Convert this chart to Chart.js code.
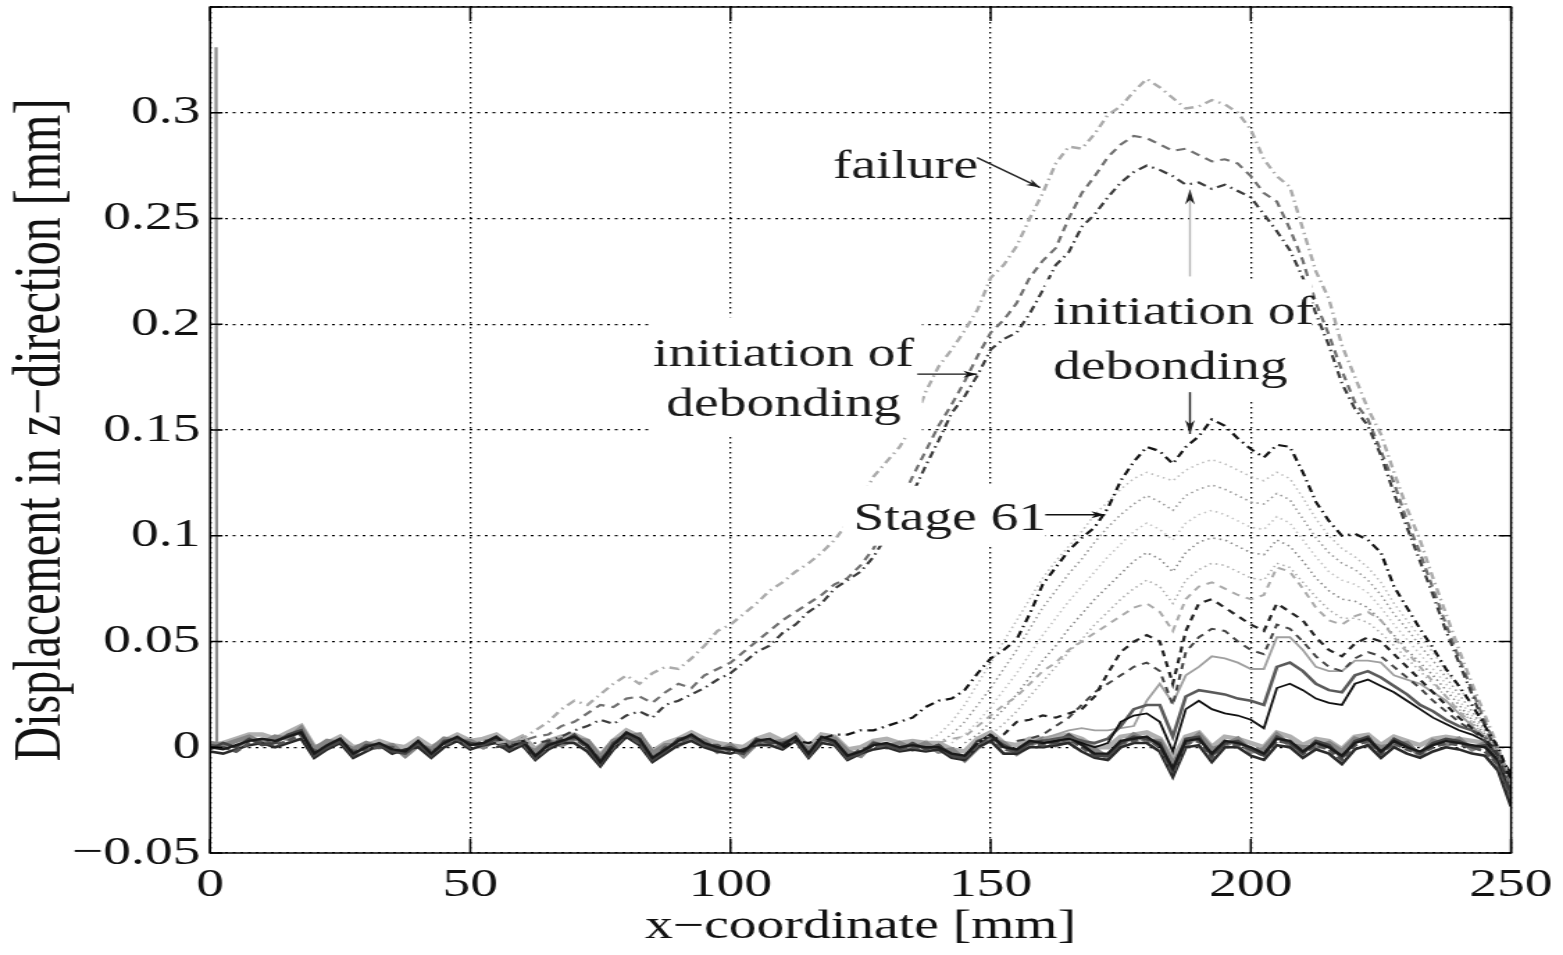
<!DOCTYPE html>
<html><head><meta charset="utf-8">
<script src="https://cdn.jsdelivr.net/npm/chart.js@4.4.0/dist/chart.umd.min.js"></script>
<style>
html,body{margin:0;padding:0;background:#fff;overflow:hidden;}
#wrap{width:1125px;height:955px;transform:scaleX(1.38933);transform-origin:0 0;}
canvas{display:block;}
</style></head><body>
<div id="wrap"><canvas id="c" width="1125" height="955" style="width:1125px;height:955px"></canvas></div>
<script>
// ---------- data ----------
const xGrid = [0,2.5,5,7.5,10,12.5,15,17.5,20,22.5,25,27.5,30,32.5,35,37.5,40,42.5,45,47.5,
  50,52.5,55,57.5,60,62.5,65,67.5,70,72.5,75,77.5,80,82.5,85,87.5,90,92.5,95,97.5,
  100,102.5,105,107.5,110,112.5,115,117.5,120,122.5,125,127.5,130,132.5,135,137.5,140,142.5,145,147.5,
  150,152.5,155,157.5,160,162.5,165,167.5,170,172.5,175,177.5,180,182.5,185,187.5,190,192.5,195,197.5,
  200,202.5,205,207.5,210,212.5,215,217.5,220,222.5,225,227.5,230,232.5,235,237.5,240,242.5,245,247.5,250];
const xTicks = [0,50,100,150,200,250];
const yTickLabels = ['\u22120.05','0','0.05','0.1','0.15','0.2','0.25','0.3',''];

// failure curve (from 55 mm)
const failureStart = 55;
const failureY = [0.002,0.003,0.004,0.008,0.012,0.018,0.022,0.02,0.025,0.03,
  0.034,0.03,0.035,0.038,0.037,0.042,0.048,0.055,0.058,0.063,
  0.068,0.074,0.078,0.083,0.087,0.092,0.098,0.106,0.117,0.128,
  0.135,0.142,0.152,0.168,0.18,0.188,0.197,0.207,0.222,0.228,
  0.237,0.25,0.262,0.276,0.284,0.283,0.29,0.299,0.303,0.31,
  0.316,0.312,0.307,0.302,0.303,0.306,0.304,0.3,0.292,0.278,
  0.27,0.265,0.245,0.225,0.212,0.19,0.175,0.16,0.148,0.13,
  0.113,0.098,0.08,0.063,0.046,0.03,0.015,0.0,-0.018];
// initiation of debonding (gray dashed)
const initBStart = 55;
const initBY = [0.0,0.002,0.003,0.005,0.006,0.01,0.012,0.016,0.02,0.019,
  0.023,0.024,0.021,0.026,0.03,0.028,0.034,0.037,0.04,0.045,
  0.05,0.055,0.06,0.064,0.068,0.072,0.077,0.08,0.086,0.094,
  0.105,0.115,0.128,0.14,0.152,0.162,0.173,0.185,0.196,0.202,
  0.21,0.222,0.23,0.236,0.25,0.262,0.27,0.279,0.285,0.289,
  0.288,0.285,0.282,0.283,0.28,0.277,0.278,0.276,0.27,0.262,
  0.258,0.245,0.23,0.21,0.195,0.178,0.163,0.155,0.14,0.125,
  0.107,0.092,0.075,0.058,0.042,0.027,0.012,-0.002,-0.02];
// dark dash-dot curve
const initCStart = 55;
const initCY = [0.0,0.001,0.002,0.002,0.003,0.005,0.008,0.01,0.013,0.011,
  0.015,0.017,0.014,0.02,0.022,0.025,0.028,0.032,0.035,0.04,
  0.045,0.048,0.054,0.058,0.064,0.068,0.075,0.079,0.083,0.09,
  0.1,0.11,0.12,0.133,0.145,0.158,0.166,0.176,0.188,0.193,
  0.196,0.205,0.216,0.228,0.234,0.246,0.252,0.26,0.267,0.272,
  0.275,0.273,0.27,0.266,0.267,0.264,0.266,0.263,0.26,0.252,
  0.244,0.235,0.222,0.205,0.19,0.172,0.16,0.152,0.138,0.12,
  0.104,0.088,0.072,0.055,0.04,0.025,0.01,-0.004,-0.022];
// Stage 61
const stage61Start = 110;
const stage61Y = [0.0,0.003,0.002,0.004,0.006,0.006,0.008,0.008,0.01,0.012,
  0.014,0.019,0.022,0.023,0.027,0.035,0.042,0.046,0.051,0.063,
  0.077,0.085,0.093,0.099,0.104,0.113,0.126,0.135,0.142,0.14,
  0.134,0.142,0.147,0.155,0.152,0.146,0.141,0.137,0.143,0.142,
  0.13,0.116,0.107,0.1,0.101,0.098,0.092,0.076,0.066,0.056,
  0.047,0.037,0.029,0.02,0.01,0.0,-0.015];
// dotted intermediate stages
const dot1Start = 137.5;
const dot1Y = [0.003,0.006,0.012,0.02,0.03,0.04,0.05,0.06,0.07,0.08,
  0.088,0.095,0.102,0.11,0.116,0.122,0.127,0.13,0.128,0.126,
  0.131,0.134,0.136,0.134,0.131,0.128,0.126,0.13,0.127,0.118,
  0.108,0.1,0.094,0.09,0.085,0.078,0.068,0.06,0.052,0.045,
  0.036,0.028,0.02,0.01,0.0,-0.015];
const dot2Start = 140;
const dot2Y = [0.002,0.006,0.012,0.02,0.028,0.037,0.046,0.056,0.066,0.074,
  0.082,0.089,0.097,0.104,0.11,0.115,0.119,0.116,0.112,0.119,
  0.122,0.124,0.122,0.119,0.116,0.115,0.12,0.117,0.108,0.099,
  0.092,0.087,0.084,0.079,0.072,0.063,0.056,0.048,0.041,0.033,
  0.025,0.017,0.008,-0.001,-0.015];
const dot3Start = 142.5;
const dot3Y = [0.002,0.006,0.012,0.019,0.027,0.035,0.044,0.053,0.061,0.069,
  0.076,0.083,0.09,0.096,0.102,0.106,0.103,0.098,0.106,0.11,
  0.112,0.11,0.107,0.104,0.103,0.109,0.106,0.098,0.09,0.083,
  0.079,0.077,0.073,0.066,0.058,0.051,0.044,0.037,0.03,0.022,
  0.015,0.007,-0.002,-0.016];
const dot4Start = 145;
const dot4Y = [0.002,0.006,0.012,0.018,0.025,0.033,0.041,0.048,0.056,0.063,
  0.07,0.076,0.082,0.088,0.092,0.089,0.083,0.092,0.097,0.099,
  0.098,0.095,0.092,0.091,0.098,0.095,0.088,0.08,0.074,0.07,
  0.069,0.066,0.06,0.053,0.046,0.04,0.034,0.027,0.02,0.013,
  0.006,-0.002,-0.016];
const dot5Start = 147.5;
const dot5Y = [0.002,0.006,0.011,0.017,0.024,0.031,0.038,0.045,0.051,0.058,
  0.064,0.07,0.075,0.079,0.076,0.068,0.079,0.084,0.087,0.086,
  0.083,0.08,0.079,0.087,0.085,0.078,0.071,0.065,0.061,0.061,
  0.059,0.054,0.048,0.042,0.036,0.03,0.024,0.018,0.012,0.005,
  -0.003,-0.017];
// dashed intermediate stages
const dash1Start = 150;
const dash1Y = [0.003,0.006,0.012,0.013,0.015,0.014,0.016,0.018,0.024,0.035,
  0.045,0.05,0.053,0.05,0.03,0.055,0.068,0.07,0.066,0.062,
  0.058,0.055,0.068,0.064,0.06,0.052,0.046,0.043,0.049,0.052,
  0.05,0.044,0.038,0.032,0.026,0.02,0.014,0.009,0.004,-0.003,
  -0.016];
const dash2Start = 140;
const dash2Y = [0.002,0.004,0.005,0.01,0.015,0.02,0.024,0.03,0.036,0.04,
  0.046,0.05,0.054,0.058,0.062,0.066,0.068,0.064,0.055,0.07,
  0.076,0.078,0.075,0.072,0.07,0.072,0.085,0.083,0.075,0.066,
  0.06,0.058,0.062,0.064,0.06,0.052,0.045,0.038,0.031,0.024,
  0.017,0.011,0.005,-0.003,-0.017];
const dash3Start = 155;
const dash3Y = [0.003,0.004,0.006,0.01,0.014,0.02,0.026,0.03,0.034,0.038,
  0.04,0.036,0.02,0.045,0.052,0.056,0.055,0.05,0.046,0.044,
  0.058,0.056,0.05,0.043,0.038,0.036,0.042,0.045,0.043,0.038,
  0.033,0.028,0.022,0.017,0.012,0.008,0.003,-0.004,-0.018];
// solid early stages
const solid1Start = 160;
const solid1Y = [0.004,0.006,0.008,0.009,0.008,0.008,0.009,0.01,0.022,0.03,
  0.021,0.034,0.038,0.043,0.042,0.04,0.037,0.037,0.052,0.052,
  0.046,0.038,0.036,0.036,0.041,0.041,0.04,0.034,0.032,0.03,
  0.026,0.022,0.016,0.01,0.004,-0.004,-0.018];
const solid2Start = 160;
const solid2Y = [0.002,0.003,0.004,0.002,0.0,0.002,0.012,0.015,0.016,0.012,
  -0.002,0.018,0.022,0.018,0.016,0.015,0.013,0.009,0.028,0.03,
  0.027,0.023,0.021,0.02,0.03,0.032,0.029,0.026,0.022,0.018,
  0.014,0.011,0.008,0.006,0.003,-0.004,-0.012];
const solid3Start = 160;
const solid3Y = [0.003,0.004,0.005,0.003,0.002,0.004,0.01,0.018,0.02,0.02,
  0.005,0.024,0.027,0.026,0.025,0.023,0.022,0.02,0.038,0.04,
  0.036,0.03,0.027,0.026,0.034,0.036,0.033,0.029,0.025,0.02,
  0.017,0.013,0.01,0.008,0.005,-0.003,-0.015];
// near-zero stages (full length)
const noise1Y = [0.000,-0.001,0.001,0.003,0.004,0.003,0.005,0.007,-0.003,0.001,
  0.004,-0.003,0.000,0.002,-0.001,-0.002,0.003,-0.003,0.002,0.005,
  0.001,0.002,0.005,0.000,0.003,-0.004,0.001,0.003,0.005,0.001,
  -0.007,0.001,0.007,0.004,-0.005,-0.001,0.003,0.006,0.002,0.000,
  -0.001,-0.002,0.003,0.004,0.001,0.005,-0.003,0.005,0.003,-0.004,
  -0.002,0.001,0.002,0.000,0.001,0.000,0.000,-0.003,-0.004,0.002,
  0.006,0.000,-0.001,0.003,0.002,0.003,0.005,0.001,-0.003,-0.003,
  0.003,0.004,0.005,0.001,-0.010,0.003,0.004,-0.003,0.003,0.002,
  0.000,-0.003,0.004,0.003,-0.002,0.002,0.000,-0.004,0.002,0.004,
  -0.002,0.003,0.000,-0.002,0.001,0.003,0.002,0.001,0.000,-0.006,
  -0.020];
const noise2Y = [0.002,0.001,0.003,0.005,0.002,0.005,0.004,0.009,-0.001,0.003,
  0.002,-0.001,0.002,0.000,0.001,-0.004,0.001,-0.001,0.004,0.003,
  0.003,0.000,0.004,0.002,0.001,-0.002,0.003,0.001,0.004,0.003,
  -0.005,0.003,0.005,0.006,-0.003,0.001,0.001,0.004,0.003,-0.002,
  0.001,-0.004,0.002,0.002,0.003,0.003,-0.001,0.003,0.004,-0.002,
  -0.004,0.002,0.000,0.002,-0.001,0.002,-0.002,-0.001,-0.006,0.000,
  0.004,0.002,-0.003,0.001,0.004,0.001,0.003,0.003,-0.001,-0.005,
  0.001,0.006,0.003,0.003,-0.008,0.001,0.006,-0.001,0.001,0.004,
  -0.002,-0.001,0.006,0.001,0.000,0.000,0.002,-0.002,0.004,0.002,
  0.000,0.001,0.002,-0.004,0.003,0.001,0.004,-0.001,0.002,-0.008,
  -0.025];
const noise3Y = [-0.002,-0.003,-0.001,0.001,0.002,0.000,0.002,0.004,-0.005,-0.001,
  0.002,-0.005,-0.002,0.001,-0.003,-0.001,0.000,-0.005,0.000,0.003,
  -0.001,0.001,0.002,-0.002,0.001,-0.006,-0.001,0.002,0.002,-0.002,
  -0.009,-0.001,0.005,0.001,-0.007,-0.003,0.001,0.003,0.000,-0.002,
  -0.003,-0.001,0.001,0.001,-0.001,0.003,-0.005,0.002,0.001,-0.006,
  -0.003,-0.001,0.000,-0.002,-0.001,-0.002,-0.001,-0.005,-0.006,0.000,
  0.003,-0.003,-0.003,0.000,0.000,0.001,0.002,-0.002,-0.005,-0.006,
  0.000,0.002,0.002,-0.002,-0.014,0.000,0.001,-0.007,0.000,0.000,
  -0.004,-0.006,0.001,0.000,-0.005,-0.001,-0.003,-0.008,-0.001,0.001,
  -0.005,0.000,-0.003,-0.005,-0.002,0.000,-0.001,-0.003,-0.004,-0.011,
  -0.028];
const noise4Y = [0.001,0.002,0.004,0.006,0.006,0.004,0.007,0.010,0.000,0.002,
  0.005,0.000,0.001,0.003,0.001,0.000,0.004,0.000,0.003,0.006,
  0.003,0.004,0.006,0.002,0.005,-0.001,0.003,0.005,0.006,0.003,
  -0.004,0.003,0.008,0.005,-0.002,0.002,0.004,0.007,0.004,0.002,
  0.001,0.000,0.004,0.006,0.003,0.006,0.000,0.006,0.005,-0.001,
  0.000,0.003,0.004,0.002,0.003,0.002,0.002,-0.001,-0.002,0.004,
  0.007,0.002,0.001,0.004,0.004,0.005,0.006,0.004,0.000,0.000,
  0.005,0.006,0.007,0.004,-0.006,0.005,0.007,0.000,0.005,0.004,
  0.002,0.000,0.007,0.005,0.001,0.004,0.003,-0.001,0.005,0.006,
  0.001,0.005,0.003,0.001,0.004,0.005,0.004,0.003,0.002,-0.004,
  -0.016];
const noise5Y = [0.001,0.000,-0.002,0.002,0.003,0.001,0.003,0.006,-0.002,0.000,
  0.003,-0.002,-0.001,0.000,0.000,-0.003,0.002,-0.002,0.001,0.004,
  0.000,0.003,0.003,-0.001,0.002,-0.005,0.000,0.004,0.004,0.000,
  -0.006,0.000,0.006,0.002,-0.006,0.000,0.002,0.005,0.001,0.001,
  -0.002,-0.003,0.002,0.003,0.000,0.004,-0.004,0.004,0.002,-0.005,
  -0.001,0.000,0.001,-0.001,0.000,-0.001,0.001,-0.004,-0.005,0.001,
  0.005,-0.001,-0.002,0.002,0.001,0.002,0.004,0.000,-0.004,-0.004,
  0.002,0.003,0.004,0.000,-0.012,0.002,0.003,-0.005,0.002,0.001,
  -0.001,-0.004,0.003,0.002,-0.003,0.001,-0.001,-0.006,0.001,0.003,
  -0.003,0.002,-0.001,-0.003,0.000,0.002,0.001,0.000,-0.002,-0.008,
  -0.024];
const noise6Y = [-0.001,0.002,0.000,0.004,0.001,0.002,0.006,0.008,-0.004,0.000,
  0.003,-0.004,0.001,0.001,-0.002,-0.003,0.002,-0.004,0.003,0.004,
  0.002,0.001,0.004,-0.001,0.004,-0.005,0.002,0.002,0.006,0.000,
  -0.008,0.002,0.006,0.003,-0.006,-0.002,0.004,0.005,0.001,-0.001,
  0.000,-0.003,0.004,0.002,0.002,0.004,-0.004,0.004,0.002,-0.005,
  -0.003,0.002,0.001,-0.001,0.002,-0.001,0.001,-0.004,-0.005,0.003,
  0.005,0.001,-0.002,0.002,0.003,0.002,0.006,0.002,-0.004,-0.004,
  0.002,0.005,0.004,0.002,-0.011,0.004,0.005,-0.004,0.002,0.003,
  -0.001,-0.004,0.005,0.002,-0.003,0.003,0.001,-0.005,0.003,0.005,
  -0.003,0.004,0.001,-0.003,0.002,0.004,0.003,0.000,0.001,-0.007,
  -0.022];
// spike at the left edge
const spikeX = [1.15, 1.3];
const spikeY = [0.331, 0.001];

// ---------- chart ----------
const FONT = '"Liberation Serif", "Times New Roman", Times, serif';
function pts(start, ys){ const i0 = xGrid.indexOf(start); return ys.map((y,i)=>({x:xGrid[i0+i], y:y})); }
function full(ys){ return xGrid.map((x,i)=>({x:x, y:ys[i]})); }
function ds(data, color, width, dash){ return {data:data, borderColor:color, borderWidth:width, borderDash:dash||[], pointRadius:0, fill:false, tension:0}; }
const DD = [7,4,1.5,4];

const datasets = [
  ds(pts(stage61Start, stage61Y), '#141414', 2.2, DD),
  ds(pts(initCStart, initCY), '#3c3c3c', 2.2, DD),
  ds(pts(initBStart, initBY), '#707070', 2.2, [7,5]),
  ds(pts(failureStart, failureY), '#ababab', 2.4, DD),
  ds(pts(dash1Start, dash1Y), '#222', 2.2, [6,5]),
  ds(pts(dash3Start, dash3Y), '#444', 2, [6,5]),
  ds(pts(dash2Start, dash2Y), '#aaa', 2, [6,5]),
  ds(pts(dot1Start, dot1Y), '#bdbdbd', 1.6, [1.5,3]),
  ds(pts(dot2Start, dot2Y), '#9a9a9a', 1.6, [1.5,3]),
  ds(pts(dot3Start, dot3Y), '#c4c4c4', 1.6, [1.5,3]),
  ds(pts(dot4Start, dot4Y), '#8a8a8a', 1.6, [1.5,3]),
  ds(pts(dot5Start, dot5Y), '#b0b0b0', 1.6, [1.5,3]),
  ds(pts(solid2Start, solid2Y), '#111', 1.8),
  ds(pts(solid3Start, solid3Y), '#5a5a5a', 2.6),
  ds(pts(solid1Start, solid1Y), '#a0a0a0', 1.8),
  ds(full(noise1Y), '#1a1a1a', 2.4),
  ds(full(noise6Y), '#444', 2.6),
  ds(full(noise5Y), '#555', 3, [6,3]),
  ds(full(noise3Y), '#2a2a2a', 2.6),
  ds(full(noise2Y), '#858585', 4.4),
  ds(full(noise4Y), '#b0b0b0', 4.4),
  ds(spikeX.map((x,i)=>({x:x, y:spikeY[i]})), '#8c8c8c', 2.2)
];

// annotation anchors in data units
const notes = {
  boxes: [[84.5,136.8,0.2033,0.1467],[160.5,211.8,0.2212,0.1646],[121.6,160.5,0.1236,0.0953],[118.2,148.9,0.288,0.2637]],
  texts: [
    {t:'failure', x:119.7, y:0.2693, align:'left'},
    {t:'initiation of', x:110.2, y:0.1802, align:'center'},
    {t:'debonding', x:110.2, y:0.1566, align:'center'},
    {t:'initiation of', x:162.0, y:0.2000, align:'left'},
    {t:'debonding', x:162.0, y:0.1740, align:'left'},
    {t:'Stage 61', x:123.6, y:0.1028, align:'left'}
  ],
  arrows: [
    {x0:147.4, y0:0.2788, x1:159.5, y1:0.2646, c:'#222', h:'#222', L:10},
    {x0:135.9, y0:0.1764, x1:147.4, y1:0.1764, c:'#111', h:'#111', L:10},
    {x0:188.3, y0:0.2226, x1:188.3, y1:0.2637, c:'#b5b5b5', h:'#222', L:15},
    {x0:188.3, y0:0.1679, x1:188.3, y1:0.1481, c:'#222', h:'#222', L:14},
    {x0:160.5, y0:0.1099, x1:172.0, y1:0.1099, c:'#111', h:'#111', L:10}
  ]
};

const frame = {
  id:'frame',
  afterDatasetsDraw(chart){
    const {ctx, chartArea:a, scales:{x, y}} = chart;
    ctx.save();
    ctx.fillStyle = '#fff';
    notes.boxes.forEach(b => {
      const x0 = x.getPixelForValue(b[0]), x1 = x.getPixelForValue(b[1]);
      const y0 = y.getPixelForValue(b[2]), y1 = y.getPixelForValue(b[3]);
      ctx.fillRect(x0, y0, x1-x0, y1-y0);
    });
    ctx.strokeStyle = '#000'; ctx.lineWidth = 1.5; ctx.setLineDash([]);
    ctx.strokeRect(a.left, a.top, a.right-a.left, a.bottom-a.top);
    ctx.beginPath();
    x.ticks.forEach(t => { const px = x.getPixelForValue(t.value);
      ctx.moveTo(px, a.bottom); ctx.lineTo(px, a.bottom-14);
      ctx.moveTo(px, a.top); ctx.lineTo(px, a.top+14); });
    y.ticks.forEach(t => { const py = y.getPixelForValue(t.value);
      ctx.moveTo(a.left, py); ctx.lineTo(a.left+9, py);
      ctx.moveTo(a.right, py); ctx.lineTo(a.right-9, py); });
    ctx.stroke();
    ctx.font = '40px ' + FONT; ctx.fillStyle = '#1a1a1a'; ctx.textBaseline = 'alphabetic';
    notes.texts.forEach(n => { ctx.textAlign = n.align; ctx.fillText(n.t, x.getPixelForValue(n.x), y.getPixelForValue(n.y)); });
    notes.arrows.forEach(r => {
      const x0 = x.getPixelForValue(r.x0), y0 = y.getPixelForValue(r.y0);
      const x1 = x.getPixelForValue(r.x1), y1 = y.getPixelForValue(r.y1);
      ctx.strokeStyle = r.c; ctx.lineWidth = 1.4;
      ctx.beginPath(); ctx.moveTo(x0,y0); ctx.lineTo(x1,y1); ctx.stroke();
      const ang = Math.atan2(y1-y0, x1-x0), L = r.L, W = 3.5;
      ctx.fillStyle = r.h;
      ctx.beginPath(); ctx.moveTo(x1,y1);
      ctx.lineTo(x1 - L*Math.cos(ang) + W*Math.sin(ang), y1 - L*Math.sin(ang) - W*Math.cos(ang));
      ctx.lineTo(x1 - 0.7*L*Math.cos(ang), y1 - 0.7*L*Math.sin(ang));
      ctx.lineTo(x1 - L*Math.cos(ang) - W*Math.sin(ang), y1 - L*Math.sin(ang) + W*Math.cos(ang));
      ctx.closePath(); ctx.fill();
    });
    ctx.restore();
  }
};

new Chart(document.getElementById('c'), {
  type: 'line',
  data: { datasets: datasets },
  options: {
    responsive: false, animation: false, devicePixelRatio: 1,
    layout: { padding: { top: 7, right: 37.4, left: 0, bottom: 0 } },
    plugins: { legend: { display: false }, tooltip: { enabled: false } },
    scales: {
      x: {
        type: 'linear', min: 0, max: 250,
        afterBuildTicks: s => { s.ticks = xTicks.map(v => ({value: v})); },
        ticks: { color: '#111', font: { size: 40, family: FONT }, padding: 8, maxRotation: 0, autoSkip: false },
        grid: { color: '#000', lineWidth: 1.3, drawTicks: false },
        border: { display: false, dash: [1.5, 3.5] },
        title: { display: true, text: 'x\u2212coordinate [mm]', color: '#111', font: { size: 40, family: FONT }, padding: { top: 0, bottom: 4 } },
        afterFit: s => { s.height = 102; s.paddingLeft = 0; s.paddingRight = 0; }
      },
      y: {
        type: 'linear', min: -0.05, max: 0.35,
        ticks: { stepSize: 0.05, color: '#111', font: { size: 40, family: FONT }, padding: 7, autoSkip: false,
                 callback: (v, i) => (yTickLabels[i] !== undefined ? yTickLabels[i] : '') },
        grid: { color: '#000', lineWidth: 1.3, drawTicks: false },
        border: { display: false, dash: [2, 3.5] },
        title: { display: true, text: 'Displacement in z\u2212direction [mm]', color: '#111', font: { size: 48, family: FONT }, padding: { top: 2, bottom: 0 } },
        afterFit: s => { s.width = 151.2; s.paddingTop = 0; s.paddingBottom = 0; }
      }
    }
  },
  plugins: [frame]
});
</script></body></html>
